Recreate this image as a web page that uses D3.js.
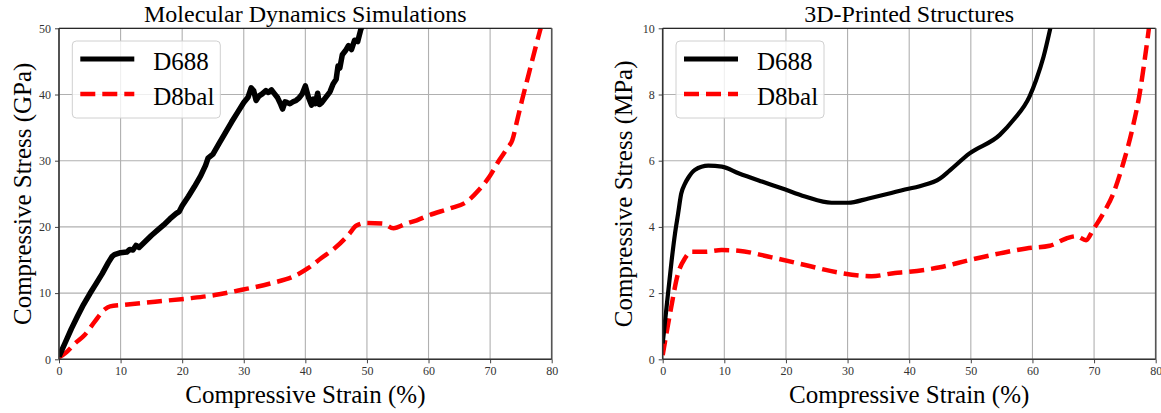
<!DOCTYPE html>
<html><head><meta charset="utf-8">
<script src="https://cdn.jsdelivr.net/npm/d3@7"></script>
<style>
html,body{margin:0;padding:0;background:#fff;}
svg text{font-family:"Liberation Serif","DejaVu Serif",serif;}
</style></head>
<body><svg id="chart" width="1161" height="413"></svg>
<script>
// ---------- DATA ----------
const xTicks = [0,10,20,30,40,50,60,70,80];
const mdYTicks = [0,10,20,30,40,50];
const prYTicks = [0,2,4,6,8,10];
const seriesNames = ["D688","D8bal"];
const titles = ["Molecular Dynamics Simulations","3D-Printed Structures"];
const yLabels = ["Compressive Stress (GPa)","Compressive Stress (MPa)"];
const xLabel = "Compressive Strain (%)";

// Molecular dynamics, D688
const mdD688Strain = [0,1,2,3,4,5,6,7,8,8.6,9,10,11,11.5,12,12.5,13,14,15,16,17,18,19,19.5,20,21,22,23,23.8,24.2,25,26,27,28,29,30,30.7,31.2,31.6,32,32.5,33,33.6,34,34.5,35,35.5,36,36.3,36.7,37,37.5,38,38.5,39,39.5,40,40.5,41,41.3,41.6,42,42.3,42.6,43,43.5,44,44.5,45,45.3,45.6,46,46.5,47,47.5,48,48.5,49,49.5];
const mdD688Stress = [0.4,2.5,4.6,6.5,8.3,9.9,11.4,12.9,14.6,15.5,15.8,16.1,16.2,16.6,16.5,17.2,16.9,17.8,18.7,19.5,20.3,21.2,22.0,22.3,23.2,24.6,26.1,27.7,29.3,30.4,31.0,32.6,34.2,35.8,37.3,38.8,39.6,41.0,40.6,39.1,39.8,40.1,40.6,40.3,40.7,40.1,39.5,38.5,37.8,38.9,38.8,38.6,38.9,39.1,39.5,40.1,41.3,39.6,38.4,39.3,38.6,40.2,38.5,38.7,39.2,39.8,40.4,41.6,42.3,44.3,44.0,46.0,46.6,47.4,46.8,48.2,48.0,49.8,51.0];

// Molecular dynamics, D8bal
const mdD8balStrain = [0,1,2.6,4.2,5.8,7.5,8.3,10.2,15.6,21,25.3,29.7,34.5,38.3,40.5,42.6,44.8,47,48.3,49.9,52.6,54.3,56.4,58.1,60.2,63.5,66.2,68.2,69.9,71.5,72.8,73.6,74.4,75.2,76.3,77.4,78.2];
const mdD8balStress = [0.3,0.9,2.4,3.7,5.7,7.6,8.0,8.2,8.7,9.2,9.7,10.5,11.5,12.6,13.8,15.3,16.8,18.8,20.2,20.6,20.5,19.8,20.5,21.0,21.8,22.8,23.8,25.6,27.6,30.1,31.9,33.1,36.1,39.2,43.2,47.2,50.0];

// 3D-printed, D688
const prD688Strain = [0,0.64,1.46,2.0,2.5,3.0,3.6,4.2,5.2,7.4,9.6,12.3,16.1,19.3,23.1,27.4,30.1,33.4,36.6,39.3,41.7,45.0,46.6,49.8,54.7,56.9,59.5,60.6,61.8,62.9];
const prD688Stress = [0.48,1.6,3.0,3.8,4.4,5.0,5.3,5.5,5.72,5.85,5.82,5.62,5.37,5.17,4.92,4.73,4.73,4.86,5.0,5.13,5.23,5.46,5.71,6.22,6.78,7.23,7.93,8.44,9.14,10.0];

// 3D-printed, D8bal
const prD8balStrain = [0,1.2,2.5,3.6,4.7,6.9,9.6,12.3,17.7,23.1,28.5,33.9,37.7,39.6,45.0,49.8,54.7,59.0,62.8,65.5,67.1,68.7,69.8,71.5,73.1,74.7,76.3,77.4,78.2,78.9];
const prD8balStress = [0.13,1.39,2.6,3.05,3.25,3.25,3.3,3.28,3.08,2.85,2.62,2.51,2.61,2.64,2.78,3.0,3.2,3.35,3.43,3.65,3.72,3.6,3.9,4.41,5.0,5.9,7.03,8.03,9.03,10.0];

// ---------- DRAW ----------
const svg = d3.select("#chart");
const panels = [
  {x0:59, x1:551.7, yMax:50, yTicks:mdYTicks, title:titles[0], ylab:yLabels[0], ylabX:31,
   d688:[mdD688Strain,mdD688Stress], d8:[mdD8balStrain,mdD8balStress], curve:d3.curveLinear, blackW:5.5},
  {x0:662.7, x1:1155.7, yMax:10, yTicks:prYTicks, title:titles[1], ylab:yLabels[1], ylabX:632,
   d688:[prD688Strain,prD688Stress], d8:[prD8balStrain,prD8balStress], curve:d3.curveMonotoneX, blackW:4.2}
];
const yTop = 28.3, yBot = 359.3;

panels.forEach((p,i)=>{
  const x = d3.scaleLinear().domain([0,80]).range([p.x0,p.x1]);
  const y = d3.scaleLinear().domain([0,p.yMax]).range([yBot,yTop]);
  const g = svg.append("g");
  const cid = "clip"+i;
  svg.append("clipPath").attr("id",cid).append("rect")
     .attr("x",p.x0).attr("y",yTop).attr("width",p.x1-p.x0).attr("height",yBot-yTop);

  // grid
  g.append("g").selectAll("line").data(xTicks).join("line")
    .attr("x1",d=>x(d)).attr("x2",d=>x(d)).attr("y1",yTop).attr("y2",yBot)
    .attr("stroke","#b0b0b0").attr("stroke-width",1.1);
  g.append("g").selectAll("line").data(p.yTicks).join("line")
    .attr("y1",d=>y(d)).attr("y2",d=>y(d)).attr("x1",p.x0).attr("x2",p.x1)
    .attr("stroke","#b0b0b0").attr("stroke-width",1.1);

  // axes
  const xa = g.append("g").attr("transform",`translate(0,${yBot})`)
    .call(d3.axisBottom(x).tickValues(xTicks).tickSize(4).tickPadding(3).tickFormat(d3.format("d")));
  const ya = g.append("g").attr("transform",`translate(${p.x0},0)`)
    .call(d3.axisLeft(y).tickValues(p.yTicks).tickSize(4).tickPadding(4).tickFormat(d3.format("d")));
  [xa,ya].forEach(a=>{
    a.select(".domain").remove();
    a.selectAll(".tick line").attr("stroke","#444").attr("stroke-width",1);
    a.selectAll(".tick text").attr("fill","#333").style("font-size","12px")
      .style("font-family","'Liberation Serif',serif");
  });

  // lines
  const line = d3.line().x(d=>x(d[0])).y(d=>y(d[1])).curve(p.curve);
  const blackPts = p.d688[0].map((v,k)=>[v,p.d688[1][k]]);
  const redPts = p.d8[0].map((v,k)=>[v,p.d8[1][k]]);
  const lg = g.append("g").attr("clip-path",`url(#${cid})`);
  lg.append("path").datum(redPts).attr("d",d3.line().x(d=>x(d[0])).y(d=>y(d[1])).curve(d3.curveMonotoneX))
    .attr("fill","none").attr("stroke","#ff0000").attr("stroke-width",4.5)
    .attr("stroke-dasharray","15 7");
  lg.append("path").datum(blackPts).attr("d",line)
    .attr("fill","none").attr("stroke","#000").attr("stroke-width",p.blackW)
    .attr("stroke-linejoin","round");

  // spines
  g.append("line").attr("x1",p.x0).attr("x2",p.x1).attr("y1",yTop).attr("y2",yTop).attr("stroke","#000").attr("stroke-width",1);
  g.append("line").attr("x1",p.x1).attr("x2",p.x1).attr("y1",yTop).attr("y2",yBot).attr("stroke","#555").attr("stroke-width",1.6);
  g.append("line").attr("x1",p.x0).attr("x2",p.x0).attr("y1",yTop).attr("y2",yBot).attr("stroke","#333").attr("stroke-width",1.6);
  g.append("line").attr("x1",p.x0).attr("x2",p.x1).attr("y1",yBot).attr("y2",yBot).attr("stroke","#333").attr("stroke-width",1.6);

  // title
  g.append("text").attr("x",(p.x0+p.x1)/2).attr("y",22).attr("text-anchor","middle")
    .style("font-size","24px").attr("fill","#000").text(p.title);
  // x label
  g.append("text").attr("x",(p.x0+p.x1)/2).attr("y",403).attr("text-anchor","middle")
    .style("font-size","25px").attr("fill","#000").text(xLabel);
  // y label
  g.append("text").attr("transform",`translate(${p.ylabX},${(yTop+yBot)/2}) rotate(-90)`)
    .attr("text-anchor","middle").style("font-size","25px").attr("fill","#000").text(p.ylab);

  // legend
  const lx = p.x0+13.3, ly = 41;
  const leg = g.append("g");
  leg.append("rect").attr("x",lx).attr("y",ly).attr("width",148).attr("height",77).attr("rx",4)
    .attr("fill","#fff").attr("fill-opacity",0.8).attr("stroke","#d0d0d0").attr("stroke-width",1);
  const rows = [{y:ly+18,color:"#000",dash:null,name:seriesNames[0],w:5},
                {y:ly+53,color:"#ff0000",dash:"15 7",name:seriesNames[1],w:4.5}];
  rows.forEach(r=>{
    const l = leg.append("line").attr("x1",lx+8).attr("x2",lx+62).attr("y1",r.y).attr("y2",r.y)
      .attr("stroke",r.color).attr("stroke-width",r.w);
    if(r.dash) l.attr("stroke-dasharray",r.dash);
    leg.append("text").attr("x",lx+81).attr("y",r.y+10.5).style("font-size","25px").attr("fill","#000").text(r.name);
  });
});
</script></body></html>
